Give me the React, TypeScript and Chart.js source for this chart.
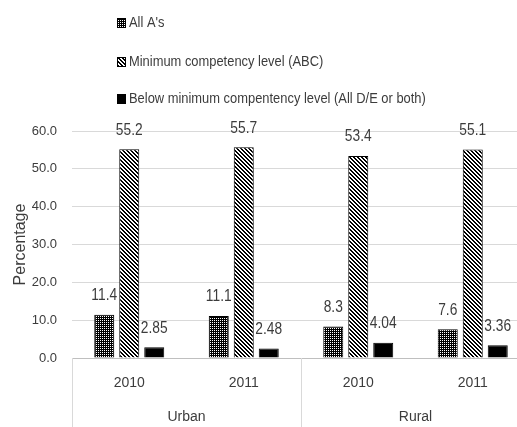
import React, { useEffect, useRef } from "react";
import { Chart, registerables } from "chart.js";

Chart.register(...registerables);

const yearLabels = ["2010", "2011", "2010", "2011"];
const groupLabels = ["Urban", "Rural"];
const seriesNames = [
  "All A's",
  "Minimum competency level (ABC)",
  "Below minimum compentency level (All D/E or both)",
];
const allAs = [11.4, 11.1, 8.3, 7.6];
const minimumLevel = [55.2, 55.7, 53.4, 55.1];
const belowMinimum = [2.85, 2.48, 4.04, 3.36];
const yTicks = [0, 10, 20, 30, 40, 50, 60];

const FONT = '"Liberation Sans", Arial, sans-serif';
const TEXT = "#3c3c3c";
const SQUEEZE = 0.86;

function makePattern(kind: "dots" | "stripes"): CanvasPattern | string {
  const size = kind === "dots" ? 2 : 4;
  const c = document.createElement("canvas");
  c.width = size;
  c.height = size;
  const g = c.getContext("2d");
  if (!g) return "#333";
  g.fillStyle = "#000";
  g.fillRect(0, 0, size, size);
  g.fillStyle = "#fff";
  if (kind === "dots") {
    g.fillRect(0, 0, 1, 1);
  } else {
    for (let x = 0; x < size; x++) {
      for (let y = 0; y < size; y++) {
        if ((x - y + size) % size >= 2) g.fillRect(x, y, 1, 1);
      }
    }
  }
  return g.createPattern(c, "repeat") || "#333";
}

// narrow text: draw horizontally condensed around the anchor point
function narrowText(ctx: CanvasRenderingContext2D, txt: string, x: number, y: number) {
  ctx.save();
  ctx.translate(x, y);
  ctx.scale(SQUEEZE, 1);
  ctx.fillText(txt, 0, 0);
  ctx.restore();
}

// value printed above each bar
const valueLabels = {
  id: "valueLabels",
  afterDatasetsDraw(chart: any) {
    const ctx = chart.ctx;
    ctx.save();
    ctx.font = `16px ${FONT}`;
    ctx.fillStyle = TEXT;
    ctx.textAlign = "center";
    ctx.textBaseline = "middle";
    chart.data.datasets.forEach((ds: any, i: number) => {
      const meta = chart.getDatasetMeta(i);
      meta.data.forEach((bar: any, j: number) => {
        const v = ds.data[j];
        const txt = i === 2 ? v.toFixed(2) : v.toFixed(1);
        narrowText(ctx, txt, bar.x, bar.y - 19);
      });
    });
    ctx.restore();
  },
};

// stacked legend above the plot
const legendBlock = {
  id: "legendBlock",
  afterDraw(chart: any) {
    const ctx = chart.ctx;
    const rows = [23, 62, 99];
    ctx.save();
    ctx.font = `15px ${FONT}`;
    ctx.textBaseline = "middle";
    ctx.textAlign = "left";
    chart.data.datasets.forEach((ds: any, i: number) => {
      const y = rows[i];
      ctx.fillStyle = ds.backgroundColor;
      ctx.fillRect(117, y - 5, 9, 10);
      ctx.strokeStyle = "#000";
      ctx.lineWidth = 1;
      ctx.strokeRect(117.5, y - 4.5, 8, 9);
      ctx.fillStyle = TEXT;
      narrowText(ctx, ds.label, 129, y);
    });
    ctx.restore();
  },
};

// vertical separators framing the Urban / Rural groups
const groupDividers = {
  id: "groupDividers",
  afterDraw(chart: any) {
    const x = chart.scales.x;
    const ctx = chart.ctx;
    const mid = (x.getPixelForValue(1) + x.getPixelForValue(2)) / 2;
    ctx.save();
    ctx.strokeStyle = "#d9d9d9";
    ctx.lineWidth = 1;
    [x.left, mid, x.right].forEach((px: number) => {
      const p = Math.round(px) + 0.5;
      ctx.beginPath();
      ctx.moveTo(p, x.top);
      ctx.lineTo(p, chart.height);
      ctx.stroke();
    });
    ctx.restore();
  },
};

export default function App() {
  const ref = useRef<HTMLCanvasElement>(null);

  useEffect(() => {
    if (!ref.current) return;
    const dots = makePattern("dots");
    const stripes = makePattern("stripes");
    const chart = new Chart(ref.current, {
      type: "bar",
      data: {
        labels: yearLabels,
        datasets: [
          { label: seriesNames[0], data: allAs, backgroundColor: dots as any, borderColor: "#000", borderWidth: 1 },
          { label: seriesNames[1], data: minimumLevel, backgroundColor: stripes as any, borderColor: "#000", borderWidth: 1 },
          { label: seriesNames[2], data: belowMinimum, backgroundColor: "#000", borderColor: "#000", borderWidth: 1 },
        ],
      },
      options: {
        responsive: false,
        animation: false,
        devicePixelRatio: 1,
        categoryPercentage: 0.655,
        barPercentage: 0.8,
        layout: { padding: { top: 131, left: 0, right: 0, bottom: 0 } },
        plugins: {
          legend: { display: false },
          tooltip: { enabled: false },
        },
        scales: {
          x: {
            type: "category",
            position: "bottom",
            weight: 0,
            afterFit: (scale: any) => {
              scale.height = 34;
            },
            grid: { display: false, drawTicks: false },
            border: { display: true, color: "#bfbfbf" },
            ticks: { color: TEXT, font: { family: FONT, size: 14 }, padding: 17 },
          },
          group: {
            type: "category",
            labels: groupLabels,
            position: "bottom",
            weight: 1,
            offset: true,
            afterFit: (scale: any) => {
              scale.height = 35;
            },
            grid: { display: false, drawTicks: false },
            border: { display: false },
            ticks: { color: TEXT, font: { family: FONT, size: 14 }, padding: 17 },
          },
          y: {
            min: 0,
            max: 60,
            afterBuildTicks: (scale: any) => {
              scale.ticks = yTicks.map((v) => ({ value: v }));
            },
            afterFit: (scale: any) => {
              scale.width = 72;
            },
            grid: { color: "#d9d9d9", drawTicks: false },
            border: { display: false },
            ticks: {
              color: TEXT,
              font: { family: FONT, size: 13 },
              padding: 15,
              callback: (v: any) => Number(v).toFixed(1),
            },
            title: {
              display: true,
              text: "Percentage",
              color: TEXT,
              font: { family: FONT, size: 16 },
              padding: { top: 11, bottom: 0 },
            },
          },
        },
      },
      plugins: [valueLabels, legendBlock, groupDividers],
    });
    return () => chart.destroy();
  }, []);

  return (
    <div
      style={{
        position: "absolute",
        left: 0,
        top: 0,
        width: 517,
        height: 427,
        overflow: "hidden",
        background: "#fff",
      }}
    >
      <canvas ref={ref} width={530} height={427} style={{ width: 530, height: 427, display: "block" }} />
    </div>
  );
}
